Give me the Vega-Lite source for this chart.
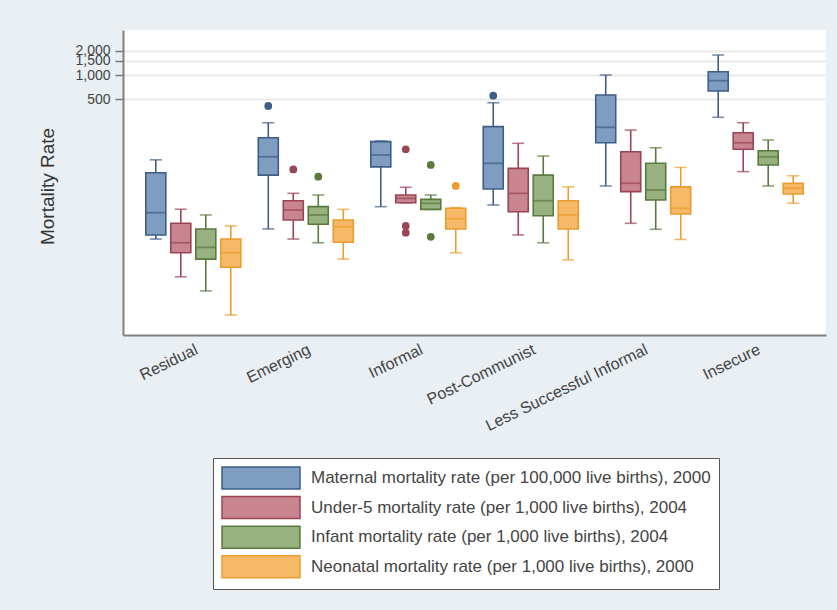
{
  "$schema": "https://vega.github.io/schema/vega-lite/v6.json",
  "autosize": {"type": "none"},
  "width": 703,
  "height": 305,
  "padding": {"left": 123, "top": 30, "right": 11, "bottom": 275},
  "background": "#e9eff2",
  "config": {
    "view": {"fill": "white", "stroke": null},
    "font": "Liberation Sans",
    "legend": {
      "orient": "none",
      "legendX": 90,
      "legendY": 428,
      "padding": 8,
      "fillColor": "white",
      "strokeColor": "#555555",
      "title": null,
      "labelFontSize": 17,
      "labelColor": "#444444",
      "labelLimit": 700,
      "labelOffset": 66,
      "rowPadding": 1.6,
      "symbolType": "M-1,-1H6.09V1H-1Z",
      "symbolSize": 484,
      "symbolStrokeWidth": 1.5
    }
  },
  "datasets": {
    "boxes": [
      {"group": "Residual", "series": "Maternal mortality rate (per 100,000 live births), 2000", "lo": 8.9, "q1": 10, "med": 19, "q3": 60, "hi": 87},
      {"group": "Residual", "series": "Under-5 mortality rate (per 1,000 live births), 2004", "lo": 3.0, "q1": 6.0, "med": 8.0, "q3": 14, "hi": 21},
      {"group": "Residual", "series": "Infant mortality rate (per 1,000 live births), 2004", "lo": 2.0, "q1": 5.0, "med": 7.0, "q3": 11.9, "hi": 17.8},
      {"group": "Residual", "series": "Neonatal mortality rate (per 1,000 live births), 2000", "lo": 1.0, "q1": 3.95, "med": 6.0, "q3": 8.9, "hi": 13},
      {"group": "Emerging", "series": "Maternal mortality rate (per 100,000 live births), 2000", "lo": 11.9, "q1": 56, "med": 95, "q3": 164, "hi": 253},
      {"group": "Emerging", "series": "Under-5 mortality rate (per 1,000 live births), 2004", "lo": 8.9, "q1": 15.4, "med": 20.5, "q3": 26.8, "hi": 33.2},
      {"group": "Emerging", "series": "Infant mortality rate (per 1,000 live births), 2004", "lo": 8.0, "q1": 13.6, "med": 17.8, "q3": 22.6, "hi": 31.6},
      {"group": "Emerging", "series": "Neonatal mortality rate (per 1,000 live births), 2000", "lo": 5.0, "q1": 8.1, "med": 12.7, "q3": 15.4, "hi": 20.9},
      {"group": "Informal", "series": "Maternal mortality rate (per 100,000 live births), 2000", "lo": 22.6, "q1": 71, "med": 100, "q3": 147, "hi": 150},
      {"group": "Informal", "series": "Under-5 mortality rate (per 1,000 live births), 2004", "lo": 25.3, "q1": 25.3, "med": 28.7, "q3": 31.6, "hi": 39.5},
      {"group": "Informal", "series": "Infant mortality rate (per 1,000 live births), 2004", "lo": 20.9, "q1": 20.9, "med": 24.9, "q3": 27.9, "hi": 31.6},
      {"group": "Informal", "series": "Neonatal mortality rate (per 1,000 live births), 2000", "lo": 6.0, "q1": 11.9, "med": 16, "q3": 21.6, "hi": 22},
      {"group": "Post-Communist", "series": "Maternal mortality rate (per 100,000 live births), 2000", "lo": 23.7, "q1": 37.6, "med": 78.7, "q3": 226, "hi": 450},
      {"group": "Post-Communist", "series": "Under-5 mortality rate (per 1,000 live births), 2004", "lo": 10, "q1": 19.5, "med": 33.2, "q3": 68, "hi": 140},
      {"group": "Post-Communist", "series": "Infant mortality rate (per 1,000 live births), 2004", "lo": 8.0, "q1": 17.4, "med": 26.8, "q3": 56, "hi": 97},
      {"group": "Post-Communist", "series": "Neonatal mortality rate (per 1,000 live births), 2000", "lo": 4.9, "q1": 11.9, "med": 17.8, "q3": 26.8, "hi": 40},
      {"group": "Less Successful Informal", "series": "Maternal mortality rate (per 100,000 live births), 2000", "lo": 41, "q1": 142, "med": 222, "q3": 562, "hi": 1000},
      {"group": "Less Successful Informal", "series": "Under-5 mortality rate (per 1,000 live births), 2004", "lo": 14, "q1": 34.8, "med": 44.3, "q3": 110, "hi": 205},
      {"group": "Less Successful Informal", "series": "Infant mortality rate (per 1,000 live births), 2004", "lo": 11.8, "q1": 27.4, "med": 36.5, "q3": 78.7, "hi": 123},
      {"group": "Less Successful Informal", "series": "Neonatal mortality rate (per 1,000 live births), 2000", "lo": 8.8, "q1": 18.3, "med": 21.6, "q3": 40, "hi": 70},
      {"group": "Insecure", "series": "Maternal mortality rate (per 100,000 live births), 2000", "lo": 296, "q1": 631, "med": 849, "q3": 1099, "hi": 1778},
      {"group": "Insecure", "series": "Under-5 mortality rate (per 1,000 live births), 2004", "lo": 62, "q1": 118, "med": 142, "q3": 190, "hi": 253},
      {"group": "Insecure", "series": "Infant mortality rate (per 1,000 live births), 2004", "lo": 41, "q1": 75, "med": 95, "q3": 113, "hi": 154},
      {"group": "Insecure", "series": "Neonatal mortality rate (per 1,000 live births), 2000", "lo": 25, "q1": 32.5, "med": 38.4, "q3": 44.3, "hi": 55}
    ],
    "outliers": [
      {"group": "Emerging", "series": "Maternal mortality rate (per 100,000 live births), 2000", "value": 410},
      {"group": "Emerging", "series": "Under-5 mortality rate (per 1,000 live births), 2004", "value": 66},
      {"group": "Emerging", "series": "Infant mortality rate (per 1,000 live births), 2004", "value": 53.5},
      {"group": "Informal", "series": "Under-5 mortality rate (per 1,000 live births), 2004", "value": 118},
      {"group": "Informal", "series": "Under-5 mortality rate (per 1,000 live births), 2004", "value": 13},
      {"group": "Informal", "series": "Under-5 mortality rate (per 1,000 live births), 2004", "value": 10.7},
      {"group": "Informal", "series": "Infant mortality rate (per 1,000 live births), 2004", "value": 75},
      {"group": "Informal", "series": "Infant mortality rate (per 1,000 live births), 2004", "value": 9.5},
      {"group": "Informal", "series": "Neonatal mortality rate (per 1,000 live births), 2000", "value": 41},
      {"group": "Post-Communist", "series": "Maternal mortality rate (per 100,000 live births), 2000", "value": 551}
    ]
  },
  "encoding": {
    "x": {
      "field": "group",
      "type": "nominal",
      "sort": ["Residual", "Emerging", "Informal", "Post-Communist", "Less Successful Informal", "Insecure"],
      "scale": {"paddingInner": 0, "paddingOuter": 0.125},
      "axis": {
        "title": null,
        "ticks": false,
        "labelAngle": -26,
        "labelAlign": "right",
        "labelBaseline": "top",
        "labelPadding": 6,
        "labelFontSize": 16,
        "labelColor": "#444444",
        "domainColor": "#808080",
        "domainWidth": 2,
        "grid": false
      }
    },
    "xOffset": {
      "field": "series",
      "type": "nominal",
      "sort": [
        "Maternal mortality rate (per 100,000 live births), 2000",
        "Under-5 mortality rate (per 1,000 live births), 2004",
        "Infant mortality rate (per 1,000 live births), 2004",
        "Neonatal mortality rate (per 1,000 live births), 2000"
      ],
      "scale": {"paddingInner": 0, "paddingOuter": 0.25}
    }
  },
  "layer": [
    {
      "data": {"name": "boxes"},
      "mark": {"type": "rule", "strokeWidth": 1.6},
      "encoding": {
        "y": {
          "field": "lo",
          "type": "quantitative",
          "scale": {"type": "log", "domain": [0.5623, 3652], "nice": false, "zero": false},
          "axis": {
            "title": "Mortality Rate",
            "titleFontSize": 19,
            "titleFontWeight": "normal",
            "titleColor": "#333333",
            "titleX": -76,
            "titleY": 156,
            "titleAngle": -90,
            "titleAlign": "center",
            "titleBaseline": "middle",
            "values": [500, 1000, 1500, 2000],
            "format": ",",
            "labelOverlap": false,
            "labelBound": false,
            "labelFontSize": 14,
            "labelColor": "#444444",
            "labelPadding": 5,
            "tickSize": 8,
            "tickColor": "#777777",
            "tickWidth": 1.5,
            "domainColor": "#808080",
            "domainWidth": 2,
            "grid": true,
            "gridColor": "#e9e9e9",
            "gridWidth": 2
          }
        },
        "y2": {"field": "hi"},
        "stroke": {
          "field": "series",
          "type": "nominal",
          "sort": [
            "Maternal mortality rate (per 100,000 live births), 2000",
            "Under-5 mortality rate (per 1,000 live births), 2004",
            "Infant mortality rate (per 1,000 live births), 2004",
            "Neonatal mortality rate (per 1,000 live births), 2000"
          ],
          "scale": {"range": ["#3e5e86", "#9a4556", "#5a7a3c", "#ec9c2c"]},
          "legend": null
        }
      }
    },
    {
      "data": {"name": "boxes"},
      "mark": {"type": "tick", "size": 12, "thickness": 1.6},
      "encoding": {
        "y": {"field": "lo", "type": "quantitative"},
        "fill": {
          "field": "series",
          "type": "nominal",
          "sort": [
            "Maternal mortality rate (per 100,000 live births), 2000",
            "Under-5 mortality rate (per 1,000 live births), 2004",
            "Infant mortality rate (per 1,000 live births), 2004",
            "Neonatal mortality rate (per 1,000 live births), 2000"
          ],
          "scale": {"range": ["#3e5e86", "#9a4556", "#5a7a3c", "#ec9c2c"]},
          "legend": null
        }
      }
    },
    {
      "data": {"name": "boxes"},
      "mark": {"type": "tick", "size": 12, "thickness": 1.6},
      "encoding": {
        "y": {"field": "hi", "type": "quantitative"},
        "fill": {
          "field": "series",
          "type": "nominal",
          "sort": [
            "Maternal mortality rate (per 100,000 live births), 2000",
            "Under-5 mortality rate (per 1,000 live births), 2004",
            "Infant mortality rate (per 1,000 live births), 2004",
            "Neonatal mortality rate (per 1,000 live births), 2000"
          ],
          "legend": null
        }
      }
    },
    {
      "data": {"name": "boxes"},
      "mark": {"type": "bar", "size": 20, "strokeWidth": 1.6},
      "encoding": {
        "y": {"field": "q1", "type": "quantitative"},
        "y2": {"field": "q3"},
        "color": {
          "field": "series",
          "type": "nominal",
          "sort": [
            "Maternal mortality rate (per 100,000 live births), 2000",
            "Under-5 mortality rate (per 1,000 live births), 2004",
            "Infant mortality rate (per 1,000 live births), 2004",
            "Neonatal mortality rate (per 1,000 live births), 2000"
          ],
          "scale": {"range": ["#7f9cc1", "#c9858f", "#98b180", "#f6b968"]},
          "legend": {
            "encode": {
              "symbols": {
                "update": {
                  "stroke": {"scale": "stroke", "field": "value"},
                  "strokeWidth": {"value": 1.5}
                }
              }
            }
          }
        },
        "stroke": {
          "field": "series",
          "type": "nominal",
          "sort": [
            "Maternal mortality rate (per 100,000 live births), 2000",
            "Under-5 mortality rate (per 1,000 live births), 2004",
            "Infant mortality rate (per 1,000 live births), 2004",
            "Neonatal mortality rate (per 1,000 live births), 2000"
          ],
          "legend": null
        }
      }
    },
    {
      "data": {"name": "boxes"},
      "mark": {"type": "tick", "size": 20, "thickness": 1.8},
      "encoding": {
        "y": {"field": "med", "type": "quantitative"},
        "fill": {
          "field": "series",
          "type": "nominal",
          "sort": [
            "Maternal mortality rate (per 100,000 live births), 2000",
            "Under-5 mortality rate (per 1,000 live births), 2004",
            "Infant mortality rate (per 1,000 live births), 2004",
            "Neonatal mortality rate (per 1,000 live births), 2000"
          ],
          "legend": null
        }
      }
    },
    {
      "data": {"name": "outliers"},
      "mark": {"type": "point", "filled": true, "size": 60, "opacity": 1},
      "encoding": {
        "y": {"field": "value", "type": "quantitative"},
        "fill": {
          "field": "series",
          "type": "nominal",
          "sort": [
            "Maternal mortality rate (per 100,000 live births), 2000",
            "Under-5 mortality rate (per 1,000 live births), 2004",
            "Infant mortality rate (per 1,000 live births), 2004",
            "Neonatal mortality rate (per 1,000 live births), 2000"
          ],
          "legend": null
        }
      }
    }
  ]
}
